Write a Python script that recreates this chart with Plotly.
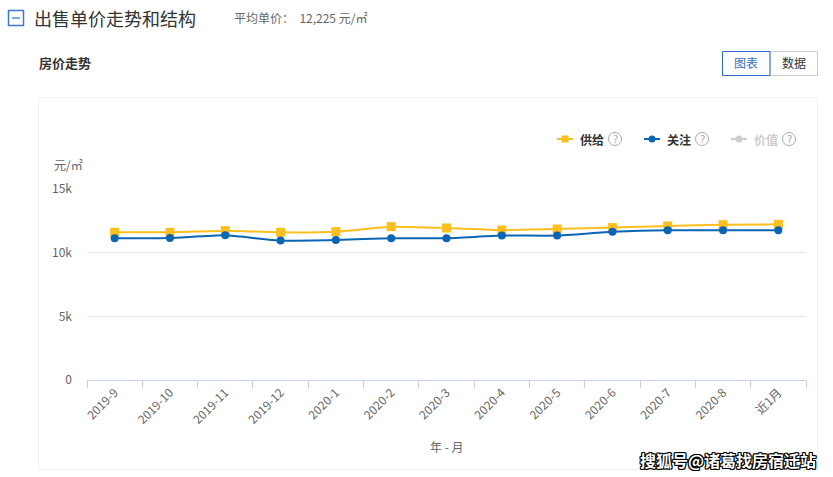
import plotly.graph_objects as go

W, H = 833, 477

months = ["2019-9", "2019-10", "2019-11", "2019-12", "2020-1", "2020-2", "2020-3",
          "2020-4", "2020-5", "2020-6", "2020-7", "2020-8", "近1月"]
supply = [11600, 11600, 11730, 11600, 11650, 12040, 11940, 11780, 11860, 11970, 12100, 12200, 12225]
attention = [11130, 11150, 11360, 10950, 11000, 11130, 11130, 11340, 11340, 11650, 11760, 11760, 11760]
ytick_vals = [0, 5000, 10000, 15000]
ytick_text = ["0", "5k", "10k", "15k"]

YELLOW = "#fbbf1e"
BLUE = "#0b65b5"
FONT = "Noto Sans CJK SC"


def px(x):
    return x / W


def py(y):
    return 1 - y / H


fig = go.Figure()
fig.add_trace(go.Scatter(x=months, y=supply, mode="lines+markers", name="供给",
                         line=dict(color=YELLOW, width=2, shape="spline", smoothing=0.4),
                         marker=dict(symbol="square", size=9, color=YELLOW)))
fig.add_trace(go.Scatter(x=months, y=attention, mode="lines+markers", name="关注",
                         line=dict(color=BLUE, width=2, shape="spline", smoothing=0.4),
                         marker=dict(symbol="circle", size=8, color=BLUE)))

shapes = []
ann = []

# card border
shapes.append(dict(type="rect", xref="paper", yref="paper", x0=px(38.5), x1=px(817.5),
                   y0=py(469.5), y1=py(97.5), line=dict(color="#efefef", width=1),
                   fillcolor="rgba(0,0,0,0)", layer="below"))

# title icon
shapes.append(dict(type="rect", xref="paper", yref="paper", x0=px(8.5), x1=px(23.5),
                   y0=py(25.5), y1=py(10.5), line=dict(color="#3c78d0", width=1.5),
                   fillcolor="white"))
shapes.append(dict(type="line", xref="paper", yref="paper", x0=px(12), x1=px(20),
                   y0=py(18), y1=py(18), line=dict(color="#7ea6e0", width=2)))

ann.append(dict(text="出售单价走势和结构", x=px(32), y=py(18), xanchor="left", yanchor="middle",
                font=dict(size=18, color="#333333", family=FONT)))
ann.append(dict(text="平均单价：  12,225 元/㎡", x=px(232), y=py(18), xanchor="left", yanchor="middle",
                font=dict(size=12, color="#666666", family=FONT)))
ann.append(dict(text="<b>房价走势</b>", x=px(37), y=py(62), xanchor="left", yanchor="middle",
                font=dict(size=13, color="#333333", family=FONT)))

# buttons
shapes.append(dict(type="rect", xref="paper", yref="paper", x0=px(770), x1=px(817.5),
                   y0=py(75.5), y1=py(51.5), line=dict(color="#cccccc", width=1)))
shapes.append(dict(type="rect", xref="paper", yref="paper", x0=px(722.5), x1=px(770),
                   y0=py(75.5), y1=py(51.5), line=dict(color="#2e6dc6", width=1)))
ann.append(dict(text="图表", x=px(746), y=py(63), xanchor="center", yanchor="middle",
                font=dict(size=12, color="#3a6fc0", family=FONT)))
ann.append(dict(text="数据", x=px(794), y=py(63), xanchor="center", yanchor="middle",
                font=dict(size=12, color="#333333", family=FONT)))

# legend
legend_items = [("供给", YELLOW, "square", 557, "#333333"),
                ("关注", BLUE, "circle", 644, "#333333"),
                ("价值", "#cccccc", "circle", 731, "#cccccc")]
ly = 139
for name, col, sym, x0, tcol in legend_items:
    shapes.append(dict(type="line", xref="paper", yref="paper", x0=px(x0), x1=px(x0 + 16),
                       y0=py(ly), y1=py(ly), line=dict(color=col, width=2)))
    cx = x0 + 8
    if sym == "square":
        shapes.append(dict(type="rect", xref="paper", yref="paper", x0=px(cx - 3.5), x1=px(cx + 3.5),
                           y0=py(ly + 3.5), y1=py(ly - 3.5), line=dict(width=0), fillcolor=col))
    else:
        shapes.append(dict(type="circle", xref="paper", yref="paper", x0=px(cx - 3.5), x1=px(cx + 3.5),
                           y0=py(ly + 3.5), y1=py(ly - 3.5), line=dict(width=0), fillcolor=col))
    ann.append(dict(text="<b>" + name + "</b>", x=px(x0 + 21), y=py(ly), xanchor="left", yanchor="middle",
                    font=dict(size=12, color=tcol, family=FONT)))
    qx = x0 + 58
    shapes.append(dict(type="circle", xref="paper", yref="paper", x0=px(qx - 6.5), x1=px(qx + 6.5),
                       y0=py(ly + 6.5), y1=py(ly - 6.5), line=dict(color="#aaaaaa", width=1)))
    ann.append(dict(text="?", x=px(qx), y=py(ly), xanchor="center", yanchor="middle",
                    font=dict(size=10, color="#aaaaaa", family="DejaVu Sans")))

ann.append(dict(text="元/㎡", x=px(52), y=py(165), xanchor="left", yanchor="middle",
                font=dict(size=12, color="#666666", family=FONT)))
ann.append(dict(text="年 - 月", x=px(447), y=py(446), xanchor="center", yanchor="middle",
                font=dict(size=12, color="#666666", family=FONT)))

# watermark
ann.append(dict(text="<b>搜狐号@诸葛找房宿迁站</b>", x=px(818), y=py(460), xanchor="right", yanchor="middle",
                font=dict(size=16, color="white", family=FONT,
                          shadow="-1px -1px 0 #000, 1px -1px 0 #000, -1px 1px 0 #000, 1px 1px 0 #000, 0 1px 0 #000, 0 -1px 0 #000, 1px 0 0 #000, -1px 0 0 #000")))

for a in ann:
    a.update(xref="paper", yref="paper", showarrow=False)

fig.update_layout(
    width=W, height=H,
    margin=dict(l=0, r=0, t=0, b=0, autoexpand=False),
    paper_bgcolor="white", plot_bgcolor="white",
    showlegend=False,
    shapes=shapes, annotations=ann,
    font=dict(family=FONT, color="#666666", size=12),
    xaxis=dict(domain=[px(87), px(806)], type="category", range=[-0.5, 12.5],
               automargin=False,
               showgrid=False, showline=True, linecolor="#c5d1ea", linewidth=1,
               ticks="outside", ticklen=7, tickcolor="#c5d1ea", tickson="boundaries",
               tickangle=-45, tickfont=dict(size=12, color="#666666", family=FONT),
               zeroline=False, fixedrange=True),
    yaxis=dict(domain=[py(380), py(189)], range=[0, 15000.1],
               automargin=False,
               tickvals=ytick_vals, ticktext=ytick_text,
               showgrid=True, gridcolor="#e6e6e6", gridwidth=1,
               showline=False, zeroline=False, ticks="",
               ticklabelstandoff=14,
               tickfont=dict(size=12, color="#666666", family=FONT), fixedrange=True),
)

fig.write_html("out.html")
